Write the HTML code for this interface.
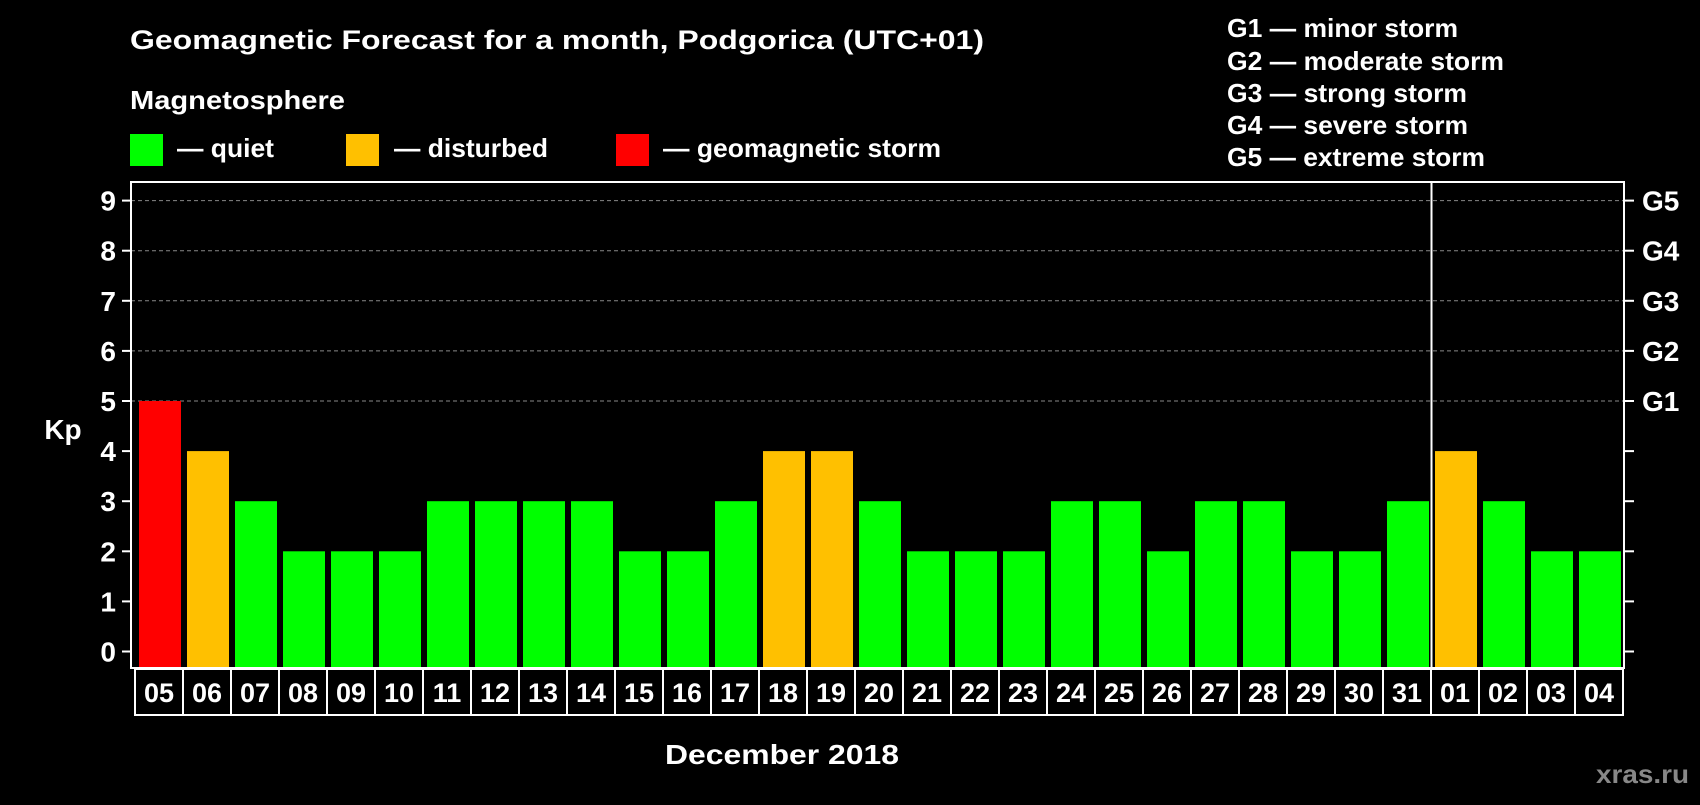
<!DOCTYPE html>
<html><head><meta charset="utf-8"><style>
html,body{margin:0;padding:0;background:#000;}
body{width:1700px;height:800px;overflow:hidden;}
svg text{font-family:"Liberation Sans",Arial,sans-serif;font-weight:bold;}
</style></head><body>
<svg width="1700" height="800" xmlns="http://www.w3.org/2000/svg">
<rect width="1700" height="800" fill="#000"/>
<text x="130" y="49" font-size="27" fill="#fff" textLength="854" lengthAdjust="spacingAndGlyphs">Geomagnetic Forecast for a month, Podgorica (UTC+01)</text>
<text x="130" y="109" font-size="26" fill="#fff" textLength="215" lengthAdjust="spacingAndGlyphs">Magnetosphere</text>
<g><rect x="130" y="134" width="33" height="32" fill="#00ff00"/><text x="177" y="157" font-size="26" fill="#fff" textLength="97" lengthAdjust="spacingAndGlyphs">— quiet</text></g>
<g><rect x="346" y="134" width="33" height="32" fill="#ffc000"/><text x="394" y="157" font-size="26" fill="#fff" textLength="154" lengthAdjust="spacingAndGlyphs">— disturbed</text></g>
<g><rect x="616" y="134" width="33" height="32" fill="#ff0000"/><text x="663" y="157" font-size="26" fill="#fff" textLength="278" lengthAdjust="spacingAndGlyphs">— geomagnetic storm</text></g>
<g font-size="26" fill="#fff">
<text x="1227" y="37" textLength="231" lengthAdjust="spacingAndGlyphs">G1 — minor storm</text>
<text x="1227" y="70" textLength="277" lengthAdjust="spacingAndGlyphs">G2 — moderate storm</text>
<text x="1227" y="102" textLength="240" lengthAdjust="spacingAndGlyphs">G3 — strong storm</text>
<text x="1227" y="134" textLength="241" lengthAdjust="spacingAndGlyphs">G4 — severe storm</text>
<text x="1227" y="166" textLength="258" lengthAdjust="spacingAndGlyphs">G5 — extreme storm</text>
</g>
<g id="grid"></g>
<g id="bars"></g>
<g id="axes"></g>
<text x="63" y="439" font-size="28" fill="#fff" text-anchor="middle">Kp</text>
<text x="665" y="764" font-size="28" fill="#fff" textLength="234" lengthAdjust="spacingAndGlyphs">December 2018</text>
<text x="1596" y="783" font-size="26" fill="#888" textLength="93" lengthAdjust="spacingAndGlyphs">xras.ru</text>
</svg>
<script>
const days = ["05","06","07","08","09","10","11","12","13","14","15","16","17","18","19","20","21","22","23","24","25","26","27","28","29","30","31","01","02","03","04"];
const kpValues = [5,4,3,2,2,2,3,3,3,3,2,2,3,4,4,3,2,2,2,3,3,2,3,3,2,2,3,4,3,2,2];
const yTicks = [0,1,2,3,4,5,6,7,8,9];
const gLabels = ["","","","","","G1","G2","G3","G4","G5"];
const NS="http://www.w3.org/2000/svg";
const plotL=131,plotR=1624,plotT=182,plotB=668;
const slot0=135,slotW=48;
function yScale(v){return 651.5-v*50.1;}
function xSlot(i){return slot0+i*slotW;}
function mk(tag,attrs,parent){const e=document.createElementNS(NS,tag);for(const k in attrs)e.setAttribute(k,attrs[k]);parent.appendChild(e);return e;}
const grid=document.getElementById('grid'),bars=document.getElementById('bars'),axes=document.getElementById('axes');
yTicks.forEach((t,i)=>{
  const y=yScale(t);
  if(t>=5){const g=mk('line',{x1:plotL,x2:plotR,y1:y,y2:y,stroke:'#888','stroke-width':1,'stroke-dasharray':'4,3'},grid);
    
    }
  const tl=mk('line',{x1:122,x2:plotL,y1:y,y2:y,stroke:'#fff','stroke-width':2},axes);
  
  
  const tr=mk('line',{x1:plotR,x2:1634,y1:y,y2:y,stroke:'#fff','stroke-width':2},axes);
  
  
  const lab=mk('text',{x:116,y:y+10,'font-size':28,fill:'#fff','text-anchor':'end'},axes);
  lab.textContent=t;
  
  
  if(gLabels[i]){const gl=mk('text',{x:1642,y:y+10,'font-size':28,fill:'#fff'},axes);
    gl.textContent=gLabels[i];
    
    }
});
kpValues.forEach((v,i)=>{
  const col=v>=5?'#ff0000':(v>=4?'#ffc000':'#00ff00');
  const y=yScale(v);
  const b=mk('rect',{x:xSlot(i)+4,y:y,width:42,height:plotB-y,fill:col},bars);
  
  
  const box=mk('rect',{x:xSlot(i),y:669,width:slotW,height:46,fill:'none',stroke:'#fff','stroke-width':2},axes);
  
  
  const lt=mk('text',{x:xSlot(i)+slotW/2,y:702,'font-size':27,fill:'#fff','text-anchor':'middle'},axes);
  lt.textContent=days[i];
  
  
});
const frame=mk('rect',{x:plotL,y:plotT,width:plotR-plotL,height:plotB-plotT,fill:'none',stroke:'#fff','stroke-width':2},axes);


const sepX=xSlot(days.indexOf("01"))+0.5;
const sep=mk('line',{x1:sepX,x2:sepX,y1:plotT,y2:plotB,stroke:'#fff','stroke-width':2},axes);


</script>
</body></html>
